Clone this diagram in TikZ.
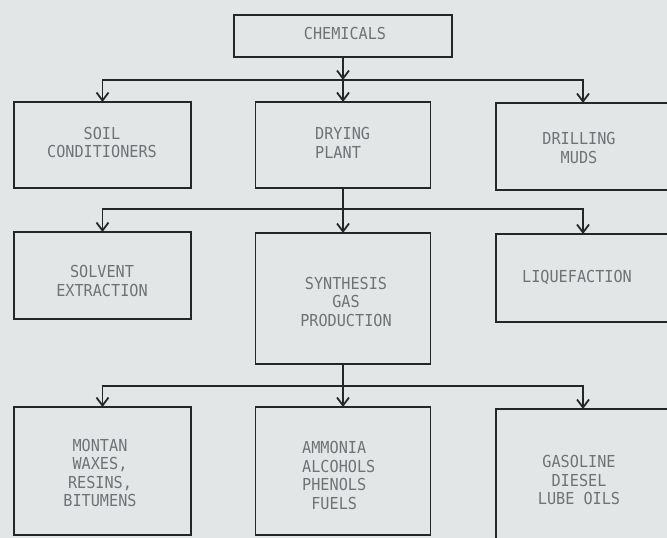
\documentclass[tikz,border=0pt]{standalone}
\usepackage{fontspec}
\setmonofont[FakeStretch=0.92]{DejaVu Sans Mono}
\usetikzlibrary{arrows.meta}
\definecolor{paper}{RGB}{226,230,231}
\definecolor{ink}{RGB}{38,38,38}
\definecolor{txt}{RGB}{112,115,118}
\begin{document}
\begin{tikzpicture}[x=1pt,y=-1pt,
  box/.style={draw=ink,line width=1.8pt,inner sep=0pt,outer sep=0pt},
  lbl/.style={text=txt,font=\ttfamily\fontsize{16.5}{18.5}\selectfont,inner sep=0pt},
  arr/.style={draw=ink,line width=1.8pt,-{Straight Barb[length=8pt,width=12pt]}},
  ln/.style={draw=ink,line width=1.8pt}]
\fill[paper] (0,0) rectangle (667,538);
\useasboundingbox (0,0) rectangle (667,538);
\begin{scope}
\clip (0,0) rectangle (667,538);
% boxes
\node[box,minimum width=218pt,minimum height=42pt] (chem) at (343,36) {};
\node[box,minimum width=177pt,minimum height=86pt] (soil) at (102.5,145) {};
\node[box,minimum width=175pt,minimum height=86pt] (dry) at (343,145) {};
\node[box,minimum width=174pt,minimum height=87pt] (drill) at (583,146.5) {};
\node[box,minimum width=177pt,minimum height=87pt] (solv) at (102.5,275.5) {};
\node[box,minimum width=175pt,minimum height=131pt] (syn) at (343,298.5) {};
\node[box,minimum width=174pt,minimum height=88pt] (liq) at (583,278) {};
\node[box,minimum width=177pt,minimum height=128pt] (mont) at (102.5,471) {};
\node[box,minimum width=175pt,minimum height=128pt] (amm) at (343,471) {};
\node[box,minimum width=174pt,minimum height=133pt] (gas) at (583,475.5) {};
% labels
\node[lbl] (tchem) at (345,33) {CHEMICALS};
\node[lbl,align=center] (tsoil) at (102,142.5) {SOIL\\CONDITIONERS};
\node[lbl,align=left,anchor=west] (tdry) at (315,143) {DRYING\\PLANT};
\node[lbl,align=center] (tdrill) at (579,148) {DRILLING\\MUDS};
\node[lbl,align=center] (tsolv) at (102,281) {SOLVENT\\EXTRACTION};
\node[lbl,align=center] (tsyn) at (346,301.5) {SYNTHESIS\\GAS\\PRODUCTION};
\node[lbl] (tliq) at (577,277) {LIQUEFACTION};
\node[lbl,align=center] (tmont) at (100,473) {MONTAN\\WAXES,\\RESINS,\\BITUMENS};
\node[lbl,align=left,anchor=west] (tamm) at (302,475.5) {AMMONIA\\ALCOHOLS\\PHENOLS\\\hphantom{A}FUELS};
\node[lbl,align=center] (tgas) at (579,480) {GASOLINE\\DIESEL\\LUBE OILS};
% connectors
\coordinate (h1) at (343,80);
\coordinate (h2) at (343,209);
\coordinate (h3) at (343,386);
\draw[arr] (chem.south) -- (h1);
\draw[arr] (h1) -- (dry.north);
\draw[arr] (h1) -| (soil.north);
\draw[arr] (h1) -| (drill.north);
\draw[ln] (dry.south) -- (h2);
\draw[arr] (h2) -- (syn.north);
\draw[arr] (h2) -| (solv.north);
\draw[arr] (h2) -| (liq.north);
\draw[ln] (syn.south) -- (h3);
\draw[arr] (h3) -- (amm.north);
\draw[arr] (h3) -| (mont.north);
\draw[arr] (h3) -| (gas.north);
\end{scope}
\end{tikzpicture}
\end{document}
